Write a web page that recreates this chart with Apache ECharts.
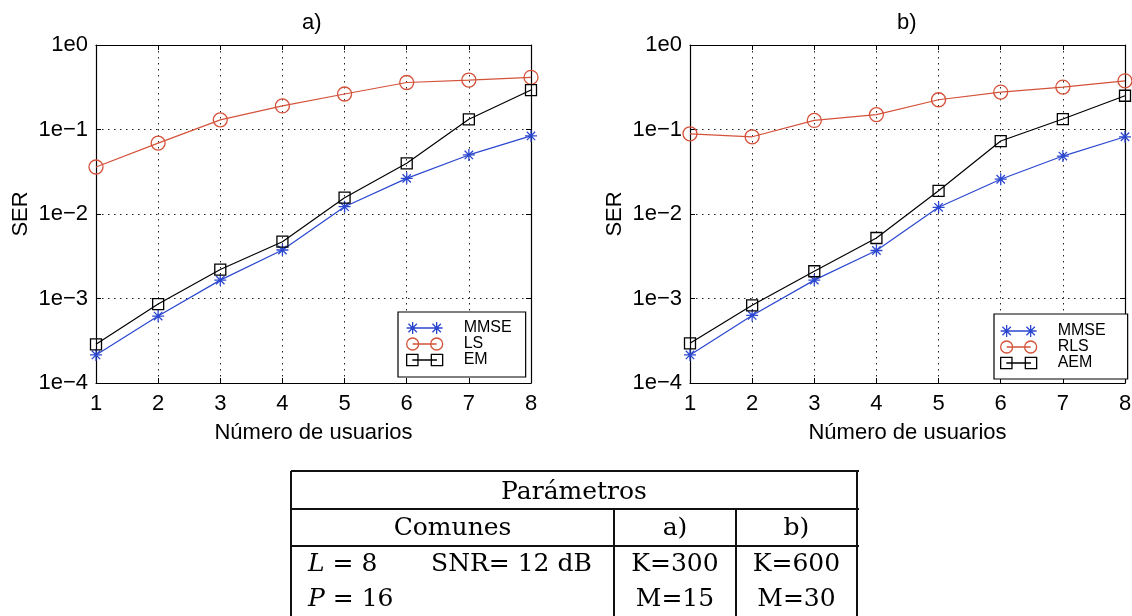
<!DOCTYPE html>
<html>
<head>
<meta charset="utf-8">
<script src="https://cdn.jsdelivr.net/npm/echarts@6/dist/echarts.min.js"></script>
<style>
  html, body { margin: 0; padding: 0; background: #fff; overflow: hidden; }
  #chart { position: absolute; left: 0; top: 0; width: 1132px; height: 616px; }
  #params { position: absolute; left: 0; top: 0; width: 1132px; height: 616px; pointer-events: none;
            font-family: "DejaVu Serif", "Liberation Serif", serif; font-size: 25px; color: #000; }
  .hl { position: absolute; height: 1.5px; background: #111; }
  .vl { position: absolute; width: 1.5px; background: #111; }
  .tc { position: absolute; white-space: pre; line-height: 30px; transform: translate(-50%, -50%); }
  .tl { position: absolute; white-space: pre; line-height: 30px; transform: translateY(-50%); }
</style>
</head>
<body>
<div id="chart"></div>
<div id="params"></div>
<script>
// ---- data -------------------------------------------------------------
const users = [1, 2, 3, 4, 5, 6, 7, 8];

// panel a)
const namesA = ['MMSE', 'LS', 'EM'];
const mmseA = [2.15e-4, 6.2e-4, 1.65e-3, 3.75e-3, 1.22e-2, 2.64e-2, 5.0e-2, 8.4e-2];
const lsA   = [0.036, 0.069, 0.13, 0.19, 0.263, 0.36, 0.385, 0.414];
const emA   = [2.87e-4, 8.6e-4, 2.2e-3, 4.7e-3, 1.56e-2, 3.98e-2, 0.132, 0.293];

// panel b)
const namesB = ['MMSE', 'RLS', 'AEM'];
const mmseB = [2.15e-4, 6.3e-4, 1.65e-3, 3.7e-3, 1.2e-2, 2.58e-2, 4.85e-2, 8.2e-2];
const rlsB  = [0.089, 0.082, 0.128, 0.15, 0.225, 0.277, 0.318, 0.377];
const aemB  = [2.95e-4, 8.3e-4, 2.1e-3, 5.2e-3, 1.88e-2, 0.073, 0.133, 0.251];

const yTickLabels = ['1e\u22124', '1e\u22123', '1e\u22122', '1e\u22121', '1e0'];
const panelTitles = ['a)', 'b)'];
const xAxisName = 'Número de usuarios';
const yAxisName = 'SER';

// parameter table
const tableTitle = 'Parámetros';
const tableHeads = ['Comunes', 'a)', 'b)'];
const commonLeft = ['<i>L</i> = 8', '<i>P</i> = 16'];
const commonRight = ['SNR= 12 dB', ''];
const paramsA = ['K=300', 'M=15'];
const paramsB = ['K=600', 'M=30'];

// ---- styling ----------------------------------------------------------
const FONT = '"Liberation Sans", Arial, Helvetica, sans-serif';
const BLUE = '#2b47cf';
const RED = '#d4523a';
const BLACK = '#000000';

const STAR = 'path://M0,6H12M6,0V12M1.8,1.8L10.2,10.2M1.8,10.2L10.2,1.8';
const ICON_STAR = 'path://M0,6H12M6,0V12M1.8,1.8L10.2,10.2M1.8,10.2L10.2,1.8M6,6H30M24,6H36M30,0V12M25.8,1.8L34.2,10.2M25.8,10.2L34.2,1.8';
const ICON_CIRCLE = 'path://M0,6A6,6,0,1,1,12,6A6,6,0,1,1,0,6ZM6,6H30M24,6A6,6,0,1,1,36,6A6,6,0,1,1,24,6Z';
const ICON_SQUARE = 'path://M0.5,0.5H11.5V11.5H0.5ZM6,6H30M24.5,0.5H35.5V11.5H24.5Z';

const markers = [
  { symbol: STAR, size: 12, color: BLUE, icon: ICON_STAR },
  { symbol: 'circle', size: 14, color: RED, icon: ICON_CIRCLE },
  { symbol: 'rect', size: 11, color: BLACK, icon: ICON_SQUARE }
];

const grids = [
  { left: 96, top: 45, width: 435, height: 338, outerBoundsMode: 'none' },
  { left: 690, top: 45, width: 435, height: 338, outerBoundsMode: 'none' }
];

const textBase = { fontFamily: FONT, color: '#000', fontSize: 22, fontWeight: 'normal' };

function xAxesFor(gi) {
  const common = {
    gridIndex: gi, type: 'value', min: 1, max: 8, interval: 1,
    axisLine: { show: true, onZero: false, lineStyle: { color: '#000', width: 1.2 } },
    axisTick: { show: true, inside: true, length: 5, lineStyle: { color: '#000', width: 1 } }
  };
  return [
    Object.assign({}, common, {
      position: 'bottom',
      axisLabel: Object.assign({ margin: 10 }, textBase),
      splitLine: { show: true, lineStyle: { color: '#222', width: 1, type: [1.5, 4.5] } },
      name: xAxisName, nameLocation: 'middle', nameGap: 39, nameMoveOverlap: false,
      nameTextStyle: textBase
    }),
    Object.assign({}, common, {
      position: 'top', axisLabel: { show: false }, splitLine: { show: false }
    })
  ];
}

function yAxesFor(gi) {
  const common = {
    gridIndex: gi, type: 'log', logBase: 10, min: 1e-4, max: 1,
    axisLine: { show: true, onZero: false, lineStyle: { color: '#000', width: 1.2 } },
    axisTick: { show: true, inside: true, length: 5, lineStyle: { color: '#000', width: 1 } },
    minorTick: { show: false }
  };
  return [
    Object.assign({}, common, {
      position: 'left',
      axisLabel: Object.assign({
        margin: 8,
        formatter: v => yTickLabels[Math.round(Math.log10(v)) + 4]
      }, textBase),
      splitLine: { show: true, lineStyle: { color: '#222', width: 1, type: [1.5, 4.5] } },
      name: yAxisName, nameLocation: 'middle', nameGap: 64, nameMoveOverlap: false,
      nameTextStyle: textBase
    }),
    Object.assign({}, common, {
      position: 'right', axisLabel: { show: false }, splitLine: { show: false }
    })
  ];
}

function seriesFor(gi, names, valueSets) {
  return valueSets.map((vals, k) => ({
    type: 'line',
    name: names[k],
    xAxisIndex: gi * 2,
    yAxisIndex: gi * 2,
    data: users.map((u, i) => [u, vals[i]]),
    symbol: markers[k].symbol,
    symbolSize: markers[k].size,
    symbolKeepAspect: true,
    clip: false,
    z: 3 + k,
    lineStyle: { color: markers[k].color, width: 1.2 },
    itemStyle: { color: 'transparent', borderColor: markers[k].color, borderWidth: 1.3 },
    emphasis: { disabled: true }
  }));
}

function legendFor(names, pos, padding) {
  return Object.assign({
    orient: 'vertical',
    padding: padding,
    itemGap: 0,
    itemWidth: 36,
    itemHeight: 12,
    selectedMode: false,
    backgroundColor: '#fff',
    borderColor: '#000',
    borderWidth: 1.2,
    borderRadius: 0,
    textStyle: { fontFamily: FONT, fontSize: 16, color: '#000', padding: [0, 0, 0, 16] },
    data: names.map((n, k) => ({
      name: n,
      icon: markers[k].icon,
      itemStyle: { color: 'transparent', borderColor: markers[k].color, borderWidth: 1.3 }
    })),
    z: 10
  }, pos);
}

const option = {
  animation: false,
  backgroundColor: '#fff',
  title: [
    { text: panelTitles[0], left: 302, top: 12, padding: 0, textStyle: textBase },
    { text: panelTitles[1], left: 897, top: 12, padding: 0, textStyle: textBase }
  ],
  grid: grids,
  xAxis: xAxesFor(0).concat(xAxesFor(1)),
  yAxis: yAxesFor(0).concat(yAxesFor(1)),
  legend: [
    legendFor(namesA, { left: 398, top: 312 }, [8, 14, 9, 8]),
    legendFor(namesB, { left: 994, top: 314 }, [9, 22, 8, 6])
  ],
  series: seriesFor(0, namesA, [mmseA, lsA, emA])
    .concat(seriesFor(1, namesB, [mmseB, rlsB, aemB]))
};

const chart = echarts.init(document.getElementById('chart'), null, { renderer: 'canvas' });
chart.setOption(option);

// ---- parameter table drawn beneath the plots ---------------------------
(function buildTable() {
  const root = document.getElementById('params');
  const L = 291, R = 857, C1 = 614, C2 = 736;
  const T0 = 471, T1 = 509, T2 = 546, B = 640;
  const hLine = (x0, x1, y) => {
    const d = document.createElement('div');
    d.className = 'hl';
    d.style.left = x0 + 'px'; d.style.top = (y - 0.75) + 'px'; d.style.width = (x1 - x0 + 1.5) + 'px';
    root.appendChild(d);
  };
  const vLine = (x, y0, y1) => {
    const d = document.createElement('div');
    d.className = 'vl';
    d.style.left = (x - 0.75) + 'px'; d.style.top = y0 + 'px'; d.style.height = (y1 - y0) + 'px';
    root.appendChild(d);
  };
  const text = (html, x, y, cls) => {
    const d = document.createElement('div');
    d.className = cls;
    d.innerHTML = html;
    d.style.left = x + 'px'; d.style.top = y + 'px';
    root.appendChild(d);
  };
  hLine(L, R, T0); hLine(L, R, T1); hLine(L, R, T2);
  vLine(L, T0, B); vLine(R, T0, B); vLine(C1, T1, B); vLine(C2, T1, B);

  text(tableTitle, (L + R) / 2, 491, 'tc');
  text(tableHeads[0], (L + C1) / 2, 527, 'tc');
  text(tableHeads[1], (C1 + C2) / 2, 527, 'tc');
  text(tableHeads[2], (C2 + R) / 2, 527, 'tc');
  const rowY = [563, 598];
  rowY.forEach((y, i) => {
    text(commonLeft[i], 308, y, 'tl');
    if (commonRight[i]) text(commonRight[i], 431, y, 'tl');
    text(paramsA[i], (C1 + C2) / 2, y, 'tc');
    text(paramsB[i], (C2 + R) / 2, y, 'tc');
  });
})();
</script>
</body>
</html>
